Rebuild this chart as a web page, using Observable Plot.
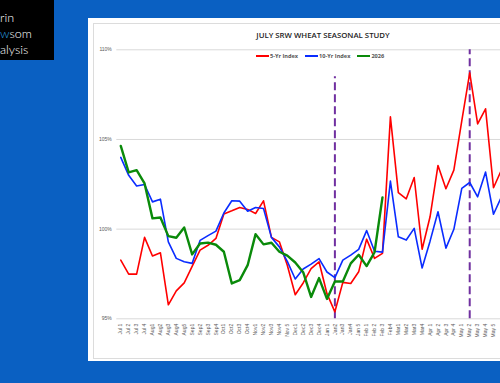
<!DOCTYPE html>
<html><head><meta charset="utf-8">
<script src="https://cdn.jsdelivr.net/npm/d3@7"></script>
<script src="https://cdn.jsdelivr.net/npm/@observablehq/plot@0.6"></script>
<style>
html,body{margin:0;padding:0;width:500px;height:383px;overflow:hidden;background:#0a60c2;font-family:"Liberation Sans",Arial,sans-serif;}
#logo{position:absolute;left:0;top:0;width:54px;height:60px;background:#000;}
.lg{position:absolute;left:0;color:#fff;font-family:"Lato",sans-serif;font-weight:300;font-size:12.5px;line-height:13px;white-space:nowrap;}
.lg .b{color:#2aa7e8;}
#panel{position:absolute;left:88px;top:18px;width:420px;height:343px;background:#fff;}
#inner{position:absolute;left:93px;top:23px;width:420px;height:336px;border:1px solid #dcdcdc;box-sizing:border-box;}
#title{position:absolute;left:223px;width:200px;top:30px;text-align:center;font-family:"Open Sans",sans-serif;font-size:7.8px;font-weight:600;color:#222;white-space:nowrap;}
#legend{position:absolute;left:256px;top:52px;font-family:"Open Sans",sans-serif;font-size:5.6px;font-weight:700;color:#555;white-space:nowrap;display:flex;align-items:center;}
#legend .sw{display:inline-block;width:13px;height:2px;margin-right:1px;}
#legend .it{display:flex;align-items:center;margin-right:7px;}
#chart{position:absolute;left:88px;top:18px;}
</style></head><body>
<div id="logo"></div>
<div class="lg" style="top:11px">rin</div>
<div class="lg" style="top:27px"><span class="b">w</span>som</div>
<div class="lg" style="top:43px">alysis</div>
<div id="panel"></div>
<div id="inner"></div>
<div id="title">JULY SRW WHEAT SEASONAL STUDY</div>
<div id="legend"></div>
<div id="chart"></div>
<script>
const categories = ["Jul 1","Jul 2","Jul 3","Jul 4","Aug1","Aug2","Aug3","Aug4","Aug5","Sep1","Sep2","Sep3","Sep4","Oct1","Oct2","Oct3","Oct4","Nov1","Nov2","Nov3","Nov4","Nov 5","Dec1","Dec2","Dec3","Dec4","Jan 1","Jan2","Jan3","Jan4","Jan 5","Feb 1","Feb 2","Feb 3","Feb4","Mar1","Mar2","Mar3","Mar4","Apr 1","Apr 2","Apr 3","Apr 4","May 1","May 2","May 3","May 4","May 5","Jun 1"];
const fiveYr = [98.27,97.49,97.49,99.54,98.5,98.68,95.78,96.56,97.0,97.92,98.83,99.1,99.48,100.85,101.02,101.21,101.1,100.87,101.58,99.54,99.29,97.99,96.34,97.0,97.8,98.18,96.4,95.39,97.03,96.97,97.62,99.44,98.37,98.65,106.26,102.04,101.69,102.88,98.88,100.69,103.55,102.25,103.29,106.03,108.72,105.87,106.71,102.31,103.3];
const tenYr = [104.0,103.0,102.41,102.49,101.52,101.67,99.29,98.37,98.18,98.09,99.37,99.64,99.89,100.9,101.58,101.56,101.0,101.21,101.15,99.54,99.01,98.2,97.22,97.78,98.05,98.36,97.61,97.3,98.27,98.55,98.87,99.92,98.77,98.72,102.68,99.57,99.39,100.04,97.83,99.33,100.97,98.94,99.99,102.27,102.6,101.8,103.18,100.83,101.8];
const y2026 = [104.64,103.16,103.29,102.55,100.6,100.65,99.61,99.52,100.09,98.59,99.2,99.25,99.13,98.74,96.97,97.16,97.99,99.72,99.15,99.24,98.74,98.52,98.14,97.6,96.22,97.27,96.11,97.08,97.08,98.09,98.57,97.94,98.71,101.77];
const yTicks = [95,100,105,110];
const markerCats = ["Jan2","May 2"];
const markerTops = [108.5,110];
const seriesNames = ["5-Yr Index","10-Yr Index","2026"];
const seriesColors = ["#ff0000","#0a2cff","#0a8a0a"];

const rows = [];
[fiveYr, tenYr, y2026].forEach((vals, s) => vals.forEach((v, i) => rows.push({cat: categories[i], value: v, series: seriesNames[s]})));
const markers = markerCats.map((c, i) => ({cat: c, top: markerTops[i]}));

const leg = document.getElementById("legend");
seriesNames.forEach((n, i) => {
  const it = document.createElement("span"); it.className = "it";
  const sw = document.createElement("span"); sw.className = "sw"; sw.style.background = seriesColors[i];
  it.appendChild(sw); it.appendChild(document.createTextNode(n)); leg.appendChild(it);
});

const chart = Plot.plot({
  width: 420, height: 344,
  marginLeft: 28.3, marginRight: 3.1, marginTop: 31.3, marginBottom: 43.7,
  style: {background: "transparent", maxWidth: "none", overflow: "visible", fontFamily: "Liberation Sans, Arial, sans-serif"},
  x: {type: "point", domain: categories, padding: 0.5},
  y: {domain: [95, 110]},
  color: {domain: seriesNames, range: seriesColors},
  marks: [
    Plot.gridY(yTicks, {stroke: "#d9d9d9", strokeOpacity: 1, strokeWidth: 1}),
    Plot.axisY(yTicks, {tickSize: 0, tickPadding: 5, fontSize: 5, fill: "#595959", tickFormat: d => d + "%", label: null}),
    Plot.axisX(categories.slice(0, 48), {tickSize: 0, tickPadding: 5, tickRotate: -90, fontSize: 5, fill: "#595959", label: null}),
    Plot.ruleX(markers, {x: "cat", y1: 95, y2: "top", stroke: "#7030a0", strokeWidth: 2, strokeDasharray: "8,4"}),
    Plot.line(rows.filter(d => d.series === "5-Yr Index"), {x: "cat", y: "value", stroke: seriesColors[0], strokeWidth: 1.6}),
    Plot.line(rows.filter(d => d.series === "10-Yr Index"), {x: "cat", y: "value", stroke: seriesColors[1], strokeWidth: 1.6}),
    Plot.line(rows.filter(d => d.series === "2026"), {x: "cat", y: "value", stroke: seriesColors[2], strokeWidth: 2.4})
  ]
});
document.getElementById("chart").appendChild(chart);
</script>
</body></html>
